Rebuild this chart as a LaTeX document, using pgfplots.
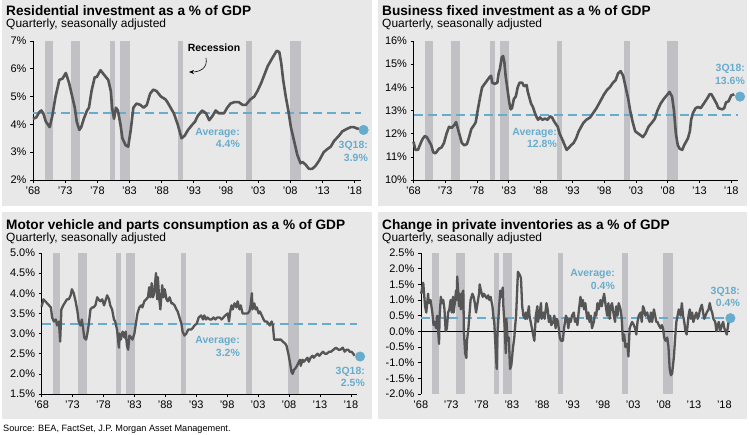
\documentclass[border=0pt]{standalone}
\usepackage{pgfplots}
\pgfplotsset{compat=1.18}
\usepackage{fontspec}
\setmainfont{Liberation Sans}
\usetikzlibrary{arrows.meta}
\definecolor{bgcol}{RGB}{232,232,232}
\definecolor{reccol}{RGB}{192,192,197}
\definecolor{linecol}{RGB}{85,85,85}
\definecolor{jpblue}{RGB}{104,172,205}
\newcommand{\recbars}[2]{%
\addplot[fill=reccol,draw=none] coordinates {(1969.85,#1)(1969.85,#2)(1971.05,#2)(1971.05,#1)} -- cycle;
\addplot[fill=reccol,draw=none] coordinates {(1973.85,#1)(1973.85,#2)(1975.3,#2)(1975.3,#1)} -- cycle;
\addplot[fill=reccol,draw=none] coordinates {(1980.05,#1)(1980.05,#2)(1980.8,#2)(1980.8,#1)} -- cycle;
\addplot[fill=reccol,draw=none] coordinates {(1981.6,#1)(1981.6,#2)(1983.1,#2)(1983.1,#1)} -- cycle;
\addplot[fill=reccol,draw=none] coordinates {(1990.6,#1)(1990.6,#2)(1991.35,#2)(1991.35,#1)} -- cycle;
\addplot[fill=reccol,draw=none] coordinates {(2001.1,#1)(2001.1,#2)(2002.05,#2)(2002.05,#1)} -- cycle;
\addplot[fill=reccol,draw=none] coordinates {(2007.9,#1)(2007.9,#2)(2009.6,#2)(2009.6,#1)} -- cycle;
}
\pgfplotsset{
 panel/.style={
  scale only axis, anchor=south west, clip=false,
  xmin=1968, xmax=2019, enlargelimits=false,
  axis x line*=bottom, axis y line*=left,
  axis line style={black, line width=0.6bp},
  tick style={black, line width=0.6bp},
  tick align=outside, major tick length=3bp,
  xtick={1968,1973,1978,1983,1988,1993,1998,2003,2008,2013,2018},
  xticklabels={’68,’73,’78,’83,’88,’93,’98,’03,’08,’13,’18},
  tick label style={font=\fontsize{11}{13}\selectfont},
 },
 mainline/.style={linecol, line width=2.6bp, line join=round},
 avgline/.style={jpblue, line width=2bp, dash pattern=on 9bp off 5bp},
 lastdot/.style={only marks, mark=*, mark size=4.8bp, color=jpblue},
}
\newcommand{\ttl}[3]{\node[anchor=base west, inner sep=0, font=\bfseries\fontsize{13.7}{16}\selectfont] at (#1bp,#2bp) {#3};}
\newcommand{\sub}[2]{\node[anchor=base west, inner sep=0, font=\fontsize{12}{14}\selectfont] at (#1bp,#2bp) {Quarterly, seasonally adjusted};}
\newcommand{\ann}[3]{\node[anchor=base east, inner sep=0, text=jpblue, font=\bfseries\fontsize{10.5}{12}\selectfont] at (#1bp,#2bp) {#3};}
\begin{document}
\begin{tikzpicture}
\path[use as bounding box] (0,0) rectangle (750bp,435bp);
\fill[bgcol] (2bp,229bp) rectangle (372bp,435bp);
\fill[bgcol] (378bp,229bp) rectangle (747bp,435bp);
\fill[bgcol] (2bp,16bp) rectangle (372bp,223bp);
\fill[bgcol] (378bp,16bp) rectangle (747bp,223bp);
\ttl{6}{419.5}{Residential investment as a \% of GDP}
\sub{6}{407.3}
\ttl{382}{419.5}{Business fixed investment as a \% of GDP}
\sub{382}{407.3}
\ttl{6}{205.2}{Motor vehicle and parts consumption as a \% of GDP}
\sub{6}{193}
\ttl{382}{205.2}{Change in private inventories as a \% of GDP}
\sub{382}{193}
\node[anchor=base west, inner sep=0, font=\fontsize{9.2}{11}\selectfont] at (3bp,4bp) {Source: BEA, FactSet, J.P. Morgan Asset Management.};
% Panel 1
\begin{axis}[panel, at={(33bp,255bp)}, width=328bp, height=139bp,
 ymin=2, ymax=7, ytick={2,3,4,5,6,7}, yticklabels={2\%,3\%,4\%,5\%,6\%,7\%}]
\recbars{2}{7}
\addplot[avgline] coordinates {(1968,4.42)(2019,4.42)};
\addplot[mainline] coordinates {
(1968.0,4.2)(1968.5,4.25)(1969.0,4.45)(1969.3,4.5)(1969.6,4.4)(1970.0,4.1)(1970.6,3.9)
(1971.0,4.3)(1971.5,5.0)(1972.1,5.6)(1972.6,5.65)(1973.1,5.85)(1973.6,5.5)(1974.1,5.0)
(1974.5,4.6)(1974.8,4.1)(1975.2,3.8)(1975.5,3.9)(1975.9,4.2)(1976.4,4.5)(1976.7,4.6)
(1977.1,5.2)(1977.6,5.7)(1977.9,5.7)(1978.5,5.95)(1979.0,5.8)(1979.7,5.6)(1980.1,5.2)
(1980.3,4.6)(1980.6,4.2)(1980.9,4.6)(1981.2,4.5)(1981.6,4.0)(1981.9,3.5)(1982.4,3.25)
(1982.8,3.2)(1983.2,3.8)(1983.6,4.6)(1984.1,4.75)(1984.7,4.7)(1985.2,4.6)(1985.7,4.7)
(1986.2,5.1)(1986.7,5.25)(1987.2,5.2)(1987.9,5.0)(1988.6,4.9)(1988.9,4.8)(1989.4,4.6)
(1989.9,4.4)(1990.5,4.0)(1991.1,3.5)(1991.6,3.6)(1992.1,3.8)(1992.8,4.0)(1993.2,4.1)
(1993.6,4.3)(1994.3,4.5)(1994.9,4.4)(1995.4,4.15)(1995.9,4.3)(1996.4,4.5)(1996.9,4.4)
(1997.7,4.4)(1998.2,4.6)(1998.7,4.75)(1999.3,4.8)(2000.0,4.8)(2000.6,4.7)(2001.1,4.7)
(2001.8,4.9)(2002.4,5.0)(2002.9,5.2)(2003.5,5.5)(2004.0,5.8)(2004.5,6.1)(2005.0,6.3)
(2005.5,6.5)(2005.9,6.65)(2006.3,6.6)(2006.6,6.2)(2006.9,5.6)(2007.3,5.0)(2007.7,4.5)
(2008.1,3.9)(2008.6,3.4)(2009.1,2.9)(2009.6,2.6)(2009.9,2.65)(2010.4,2.55)(2010.9,2.4)
(2011.4,2.4)(2011.9,2.5)(2012.5,2.7)(2013.2,3.0)(2013.7,3.1)(2014.3,3.2)(2014.8,3.4)
(2015.6,3.6)(2016.1,3.75)(2016.9,3.85)(2017.4,3.9)(2017.9,3.9)(2018.4,3.85)(2018.7,3.85)};
\addplot[lastdot] coordinates {(2019.4,3.8)};
\end{axis}
\node[anchor=base, inner sep=0, font=\bfseries\fontsize{10.5}{12}\selectfont] at (214bp,383bp) {Recession};
\draw[-{Stealth[length=5bp,width=4bp]}, line width=0.6bp] (206bp,377bp) .. controls (208bp,367bp) and (200bp,363bp) .. (189bp,363bp);
\ann{240}{299}{Average:}
\ann{240}{287}{4.4\%}
\ann{368}{286}{3Q18:}
\ann{368}{273.7}{3.9\%}
% Panel 2
\begin{axis}[panel, at={(413.5bp,255bp)}, width=324bp, height=139bp,
 ymin=10, ymax=16, ytick={10,11,12,13,14,15,16}, yticklabels={10\%,11\%,12\%,13\%,14\%,15\%,16\%}]
\recbars{10}{16}
\addplot[avgline] coordinates {(1968,12.82)(2019,12.82)};
\addplot[mainline] coordinates {
(1968.0,11.65)(1968.3,11.3)(1968.7,11.3)(1969.0,11.5)(1969.3,11.7)(1969.5,11.8)(1969.8,11.9)
(1970.1,11.85)(1970.4,11.7)(1970.8,11.5)(1971.1,11.2)(1971.4,11.15)(1971.6,11.2)(1972.0,11.35)
(1972.4,11.4)(1972.8,11.6)(1973.2,12.0)(1973.6,12.3)(1974.0,12.25)(1974.5,12.4)(1974.7,12.5)
(1974.9,12.3)(1975.3,11.9)(1975.6,11.6)(1976.0,11.5)(1976.4,11.55)(1976.7,11.8)(1977.1,12.2)
(1977.6,12.4)(1977.8,12.5)(1978.1,13.0)(1978.5,13.6)(1978.8,14.0)(1979.2,14.15)(1979.6,14.3)
(1980.0,14.45)(1980.2,14.5)(1980.4,14.2)(1980.8,14.15)(1981.2,14.2)(1981.4,14.6)(1981.6,14.8)
(1981.9,15.3)(1982.1,15.35)(1982.3,15.1)(1982.5,14.5)(1982.8,13.9)(1983.1,13.3)(1983.3,13.05)
(1983.5,13.1)(1983.8,13.5)(1984.1,13.6)(1984.4,14.0)(1984.7,14.2)(1985.1,14.2)(1985.4,14.05)
(1985.8,14.1)(1986.0,13.8)(1986.5,13.3)(1986.8,13.15)(1987.1,12.9)(1987.4,12.7)(1987.6,12.6)
(1987.9,12.7)(1988.3,12.6)(1988.7,12.65)(1989.1,12.6)(1989.5,12.75)(1989.8,12.7)(1990.2,12.5)
(1990.7,12.3)(1991.0,12.0)(1991.5,11.7)(1992.1,11.3)(1992.3,11.35)(1992.8,11.5)(1993.2,11.6)
(1993.6,11.8)(1994.0,12.1)(1994.7,12.45)(1995.2,12.6)(1995.8,12.7)(1996.3,12.9)(1996.8,13.1)
(1997.2,13.3)(1997.6,13.5)(1998.0,13.7)(1998.5,13.9)(1998.9,14.0)(1999.4,14.2)(1999.8,14.3)
(2000.2,14.6)(2000.6,14.7)(2001.0,14.5)(2001.4,14.0)(2001.8,13.5)(2002.1,13.0)(2002.5,12.5)
(2002.9,12.1)(2003.4,12.0)(2003.9,11.9)(2004.1,11.85)(2004.5,12.0)(2005.0,12.3)(2005.6,12.5)
(2006.0,12.65)(2006.4,13.0)(2006.9,13.3)(2007.4,13.5)(2008.0,13.7)(2008.3,13.8)(2008.7,13.6)
(2009.0,13.0)(2009.3,12.0)(2009.6,11.5)(2009.9,11.35)(2010.3,11.3)(2010.6,11.5)(2011.0,11.7)
(2011.2,11.8)(2011.5,12.1)(2011.7,12.6)(2012.0,12.9)(2012.4,13.1)(2012.8,13.15)(2013.2,13.1)
(2013.7,13.3)(2014.3,13.55)(2014.6,13.7)(2014.9,13.7)(2015.3,13.5)(2015.7,13.3)(2016.0,13.1)
(2016.6,13.05)(2016.9,13.1)(2017.2,13.35)(2017.6,13.4)(2018.0,13.65)(2018.5,13.7)};
\addplot[lastdot] coordinates {(2019.4,13.6)};
\end{axis}
\ann{557}{299}{Average:}
\ann{557}{287}{12.8\%}
\ann{745}{363}{3Q18:}
\ann{745}{350.7}{13.6\%}
% Panel 3
\begin{axis}[panel, at={(41.6bp,41bp)}, width=315.4bp, height=141bp,
 ymin=1.5, ymax=5, ytick={1.5,2,2.5,3,3.5,4,4.5,5}, yticklabels={1.5\%,2.0\%,2.5\%,3.0\%,3.5\%,4.0\%,4.5\%,5.0\%}]
\recbars{1.5}{5}
\addplot[avgline] coordinates {(1968,3.24)(2019,3.24)};
\addplot[mainline, line width=2.3bp] coordinates {
(1968.0,3.67)(1968.3,3.85)(1968.6,3.8)(1968.9,3.75)(1969.2,3.7)(1969.5,3.65)(1969.7,3.4)
(1970.0,3.3)(1970.3,3.35)(1970.5,3.2)(1970.8,3.3)(1971.0,2.8)(1971.2,3.6)(1971.5,3.7)
(1971.9,3.8)(1972.1,3.85)(1972.4,3.85)(1972.7,3.95)(1972.9,4.1)(1973.2,4.0)(1973.5,3.8)
(1973.8,3.55)(1974.0,3.3)(1974.3,3.2)(1974.5,3.35)(1974.7,3.15)(1974.9,2.9)(1975.2,2.85)
(1975.4,3.0)(1975.6,3.2)(1975.9,3.6)(1976.2,3.65)(1976.4,3.65)(1976.7,3.7)(1977.0,3.9)
(1977.2,3.85)(1977.5,3.8)(1977.8,3.85)(1978.1,3.7)(1978.3,3.8)(1978.6,3.95)(1978.9,3.85)
(1979.1,3.7)(1979.4,3.6)(1979.7,3.35)(1979.9,3.3)(1980.2,3.1)(1980.5,2.65)(1980.6,3.0)
(1980.8,2.85)(1981.1,3.05)(1981.4,2.9)(1981.6,3.05)(1981.8,2.7)(1982.0,2.6)(1982.2,2.95)
(1982.5,2.9)(1982.7,2.85)(1983.0,3.0)(1983.3,3.3)(1983.5,3.5)(1983.8,3.65)(1984.1,3.7)
(1984.3,3.65)(1984.6,3.8)(1984.9,3.85)(1985.2,3.9)(1985.4,4.15)(1985.6,3.9)(1985.8,4.25)
(1986.0,3.9)(1986.2,4.0)(1986.5,4.5)(1986.7,3.85)(1986.8,4.4)(1987.0,3.9)(1987.2,3.6)
(1987.5,4.2)(1987.7,3.9)(1987.9,4.1)(1988.2,3.85)(1988.4,3.8)(1988.7,3.9)(1989.0,3.75)
(1989.2,3.75)(1989.5,3.7)(1989.8,3.6)(1990.0,3.55)(1990.3,3.4)(1990.6,3.25)(1990.8,3.05)
(1991.1,2.95)(1991.4,3.0)(1991.7,3.1)(1991.9,3.1)(1992.2,3.1)(1992.5,3.15)(1992.7,3.2)
(1993.1,3.25)(1993.4,3.4)(1993.8,3.45)(1994.1,3.35)(1994.3,3.45)(1994.6,3.35)(1994.8,3.4)
(1995.2,3.35)(1995.5,3.35)(1995.8,3.4)(1996.1,3.35)(1996.4,3.4)(1996.8,3.4)(1997.1,3.35)
(1997.4,3.4)(1997.7,3.45)(1998.1,3.5)(1998.3,3.3)(1998.5,3.55)(1998.7,3.7)(1998.9,3.6)
(1999.2,3.75)(1999.5,3.65)(1999.7,3.8)(2000.0,3.6)(2000.2,3.7)(2000.5,3.5)(2000.8,3.5)
(2001.1,3.5)(2001.3,3.5)(2001.6,3.55)(2001.8,3.7)(2002.0,4.0)(2002.1,3.6)(2002.4,3.75)
(2002.6,3.6)(2002.8,3.65)(2003.1,3.5)(2003.3,3.55)(2003.6,3.45)(2003.9,3.35)(2004.1,3.3)
(2004.4,3.3)(2004.7,3.25)(2004.9,3.2)(2005.2,3.3)(2005.4,3.2)(2005.6,2.85)(2005.9,2.85)
(2006.3,2.85)(2006.7,2.85)(2007.0,2.8)(2007.4,2.75)(2007.6,2.7)(2007.9,2.5)(2008.2,2.25)
(2008.4,2.05)(2008.6,2.0)(2008.8,2.1)(2009.1,2.15)(2009.3,2.2)(2009.6,2.3)(2009.8,2.35)
(2009.9,2.2)(2010.2,2.35)(2010.4,2.3)(2010.7,2.35)(2011.0,2.4)(2011.2,2.3)(2011.5,2.4)
(2011.8,2.45)(2012.0,2.4)(2012.3,2.45)(2012.6,2.5)(2012.9,2.45)(2013.2,2.5)(2013.5,2.55)
(2013.8,2.5)(2014.1,2.5)(2014.5,2.55)(2014.8,2.55)(2015.2,2.6)(2015.6,2.65)(2016.0,2.6)
(2016.3,2.6)(2016.7,2.65)(2017.0,2.55)(2017.3,2.6)(2017.6,2.6)(2017.8,2.55)(2018.1,2.55)
(2018.4,2.5)(2018.6,2.45)};
\addplot[lastdot] coordinates {(2019.5,2.43)};
\end{axis}
\ann{240}{91}{Average:}
\ann{240}{78}{3.2\%}
\ann{365}{60.5}{3Q18:}
\ann{365}{48.5}{2.5\%}
% Panel 4
\begin{axis}[panel, at={(420.8bp,41bp)}, width=309.6bp, height=141bp,
 axis x line*=bottom, x axis line style={draw=none}, xtick style={draw=none},
 ymin=-2, ymax=2.5, ytick={-2,-1.5,-1,-0.5,0,0.5,1,1.5,2,2.5},
 yticklabels={-2.0\%,-1.5\%,-1.0\%,-0.5\%,0.0\%,0.5\%,1.0\%,1.5\%,2.0\%,2.5\%}]
\recbars{-2}{2.5}
\addplot[black, line width=0.7bp] coordinates {(1968,0)(2019,0)};
\addplot[avgline] coordinates {(1968,0.42)(2019,0.42)};
\addplot[mainline, line width=2.3bp] coordinates {
(1968.05,1.2)(1968.4,1.55)(1968.7,0.8)(1968.9,0.6)(1969.2,1.2)(1969.3,0.9)(1969.6,1.0)
(1969.9,0.6)(1970.1,0.2)(1970.3,0.3)(1970.5,0.1)(1970.7,0.5)(1971.0,-0.4)(1971.1,0.5)
(1971.3,1.1)(1971.5,0.9)(1971.7,1.0)(1971.9,0.7)(1972.1,0.0)(1972.3,0.1)(1972.5,0.6)
(1972.7,0.7)(1972.9,1.0)(1973.1,0.6)(1973.3,1.1)(1973.4,0.6)(1973.6,0.9)(1973.8,1.3)
(1973.9,1.0)(1974.0,1.75)(1974.3,0.8)(1974.4,1.2)(1974.6,0.7)(1974.8,1.2)(1975.0,1.3)
(1975.1,0.0)(1975.3,-0.7)(1975.5,-0.85)(1975.6,-0.3)(1975.8,0.0)(1976.0,0.5)(1976.2,1.0)
(1976.5,1.2)(1976.7,1.1)(1976.9,0.9)(1977.1,0.6)(1977.3,0.85)(1977.6,1.2)(1977.7,1.5)
(1977.9,1.3)(1978.2,1.1)(1978.4,1.2)(1978.7,1.1)(1978.9,1.05)(1979.1,1.15)(1979.3,1.0)
(1979.5,1.1)(1979.8,0.8)(1980.0,0.4)(1980.1,0.3)(1980.5,-1.2)(1980.6,-0.2)(1980.9,0.8)
(1981.1,1.3)(1981.3,1.1)(1981.5,1.4)(1981.6,0.8)(1981.8,0.2)(1982.0,-0.7)(1982.1,0.4)
(1982.3,-0.3)(1982.5,-0.2)(1982.7,-1.2)(1982.9,-1.1)(1983.2,-0.5)(1983.4,-0.2)(1983.6,0.3)
(1983.7,0.5)(1984.0,1.9)(1984.3,1.8)(1984.5,1.7)(1984.7,0.8)(1984.9,0.5)(1985.2,0.4)
(1985.3,0.6)(1985.5,0.4)(1985.8,0.8)(1985.9,0.5)(1986.1,0.3)(1986.4,0.0)(1986.6,-0.2)
(1986.7,-0.3)(1986.95,0.5)(1987.2,0.8)(1987.3,0.3)(1987.6,0.6)(1987.8,0.9)(1987.9,0.4)
(1988.2,0.6)(1988.4,0.4)(1988.7,0.9)(1988.9,0.7)(1989.1,0.3)(1989.3,0.5)(1989.5,0.2)
(1989.8,0.3)(1990.0,0.5)(1990.2,0.1)(1990.4,0.4)(1990.6,0.3)(1990.9,-0.2)(1991.1,-0.3)
(1991.4,-0.3)(1991.6,0.1)(1991.9,0.5)(1992.1,0.4)(1992.3,0.1)(1992.5,0.4)(1992.7,0.3)
(1992.9,0.5)(1993.2,0.6)(1993.4,0.3)(1993.6,0.4)(1993.8,0.2)(1994.0,0.6)(1994.3,1.1)
(1994.5,0.8)(1994.7,1.0)(1994.9,0.7)(1995.1,0.9)(1995.4,0.4)(1995.6,0.6)(1995.8,0.3)
(1996.0,0.5)(1996.2,0.1)(1996.5,0.3)(1996.7,0.6)(1996.9,0.5)(1997.1,0.9)(1997.3,0.7)
(1997.6,1.0)(1997.8,0.8)(1998.0,1.0)(1998.2,1.2)(1998.4,0.9)(1998.7,0.5)(1998.9,0.9)
(1999.1,0.4)(1999.3,0.8)(1999.5,0.9)(1999.8,0.5)(2000.0,0.3)(2000.2,0.8)(2000.4,0.5)
(2000.6,0.9)(2000.9,0.7)(2001.1,0.4)(2001.3,-0.3)(2001.5,-0.1)(2001.7,-0.5)(2002.0,-0.4)
(2002.2,-0.8)(2002.4,0.1)(2002.6,0.2)(2002.8,0.3)(2003.1,0.2)(2003.3,0.1)(2003.5,-0.1)
(2003.7,0.3)(2003.9,0.5)(2004.2,0.6)(2004.4,0.3)(2004.6,0.8)(2004.8,0.7)(2005.0,0.5)
(2005.3,0.6)(2005.5,0.4)(2005.7,0.3)(2005.9,0.6)(2006.1,0.3)(2006.4,0.7)(2006.6,0.5)
(2006.8,0.3)(2007.0,0.3)(2007.2,0.2)(2007.5,0.1)(2007.7,0.2)(2007.9,0.1)(2008.1,-0.2)
(2008.3,-0.3)(2008.6,-0.2)(2008.8,-0.5)(2009.0,-1.2)(2009.2,-1.4)(2009.4,-1.35)(2009.7,-0.8)
(2009.9,-0.2)(2010.1,0.3)(2010.3,0.5)(2010.5,0.7)(2010.8,0.5)(2011.0,0.9)(2011.2,0.5)
(2011.4,0.3)(2011.6,0.0)(2011.8,-0.1)(2012.1,0.5)(2012.3,0.7)(2012.5,0.4)(2012.7,0.6)
(2012.9,0.3)(2013.2,0.5)(2013.4,0.6)(2013.6,0.4)(2013.8,0.5)(2014.0,0.7)(2014.3,0.85)
(2014.5,0.6)(2014.7,0.4)(2014.9,0.5)(2015.1,0.6)(2015.4,0.7)(2015.6,0.9)(2015.8,0.7)
(2016.0,0.6)(2016.2,0.4)(2016.5,0.3)(2016.7,0.0)(2016.9,0.2)(2017.1,0.3)(2017.3,0.0)
(2017.6,0.2)(2017.8,0.3)(2018.0,0.1)(2018.2,0.0)(2018.4,-0.1)(2018.7,0.3)};
\addplot[lastdot] coordinates {(2019.0,0.42)};
\end{axis}
\ann{615}{158}{Average:}
\ann{615}{145}{0.4\%}
\ann{740}{140}{3Q18:}
\ann{740}{128}{0.4\%}
\end{tikzpicture}
\end{document}
